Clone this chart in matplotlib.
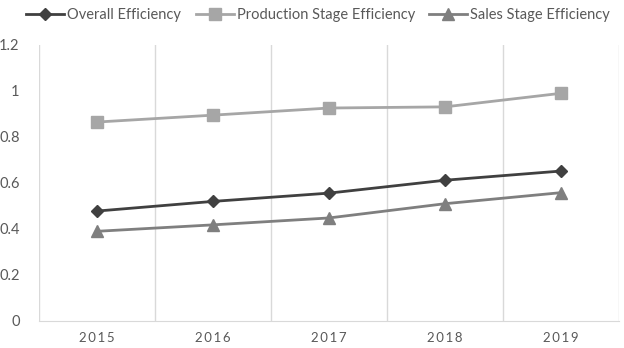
import matplotlib
matplotlib.use("Agg")
import matplotlib.pyplot as plt

years = ["2015", "2016", "2017", "2018", "2019"]
overall = [0.478, 0.520, 0.556, 0.612, 0.652]
production = [0.865, 0.895, 0.926, 0.931, 0.990]
sales = [0.390, 0.418, 0.448, 0.510, 0.558]

plt.rcParams['font.family'] = ['Lato', 'DejaVu Sans']

fig = plt.figure(figsize=(6.24, 3.48), dpi=100)
ax = fig.add_axes([39/624, 1 - 321/348, 580/624, 276/348])

x = range(len(years))
ax.plot(x, overall, color='#404040', lw=2, marker='D', ms=6, label='Overall Efficiency')
ax.plot(x, production, color='#a6a6a6', lw=2, marker='s', ms=8, label='Production Stage Efficiency')
ax.plot(x, sales, color='#7f7f7f', lw=2, marker='^', ms=8, label='Sales Stage Efficiency')

ax.set_xlim(-0.5, len(years) - 0.5)
ax.set_ylim(0, 1.2)
ax.set_yticks([0, 0.2, 0.4, 0.6, 0.8, 1.0, 1.2])
ax.set_yticklabels(['0', '0.2', '0.4', '0.6', '0.8', '1', '1.2'])
ax.set_xticks(list(x))
ax.set_xticklabels(['\u2009'.join(y) for y in years])

# vertical gridlines at category boundaries
for b in [i - 0.5 for i in range(len(years) + 1)]:
    ax.axvline(b, color='#d9d9d9', lw=1, zorder=0)

for s in ['top', 'right', 'left']:
    ax.spines[s].set_visible(False)
ax.spines['bottom'].set_color('#d9d9d9')
ax.tick_params(axis='both', length=0, colors='#595959', labelsize=10.5)
ax.tick_params(axis='x', pad=8, labelsize=9.5)
ax.tick_params(axis='y', pad=14)

fig.legend(loc='upper center', bbox_to_anchor=(0.51, 1.015), ncol=3, frameon=False,
           fontsize=10.5, handlelength=2.6, columnspacing=1.0, handletextpad=0.2,
           labelcolor='#595959')

fig.savefig('out.png', dpi=100)
